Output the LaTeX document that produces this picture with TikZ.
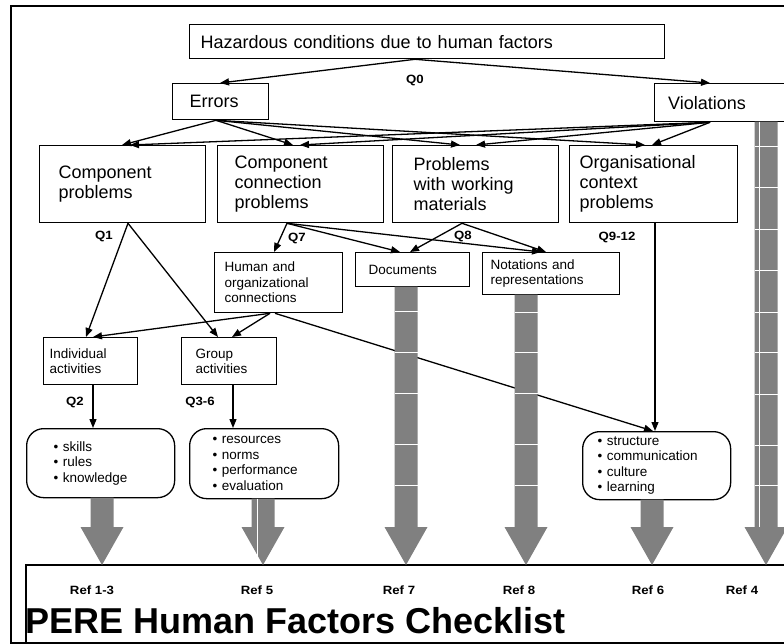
\documentclass[tikz,border=0pt]{standalone}
\usepackage{fontspec}
\setmainfont{Liberation Sans}
\newfontfamily\lblfont[FakeStretch=1.1]{Liberation Sans}
\usetikzlibrary{arrows.meta,calc}
\definecolor{blkgray}{RGB}{128,128,128}
\newcommand\blkarr[2]{%
  \fill[blkgray] ({#1-11.5},#2) -- ({#1+11.5},#2) -- ({#1+11.5},527) -- ({#1+21.5},527)
    -- (#1,565) -- ({#1-21.5},527) -- ({#1-11.5},527) -- cycle;}
\newcommand\sepl[2]{\draw[white,line width=1pt] ({#1-11.5},#2) -- ({#1+11.5},#2);}
\begin{document}
\begin{tikzpicture}[x=1pt,y=-1pt,
  bx/.style={draw, line width=1.3pt, fill=white, anchor=north west, align=left, inner ysep=0pt},
  rbx/.style={bx, rounded corners=17pt},
  big/.style={font=\fontsize{18}{20}\selectfont},
  sml/.style={font=\fontsize{13.5}{15.5}\selectfont},
  con/.style={line width=1.3pt, -{Triangle[length=9pt,width=7pt]}},
  lbl/.style={font=\lblfont\bfseries\fontsize{12}{14}\selectfont, inner sep=0pt},
  rlbl/.style={lbl, anchor=base}
]
\useasboundingbox (0,0) rectangle (784,644);
\clip (0,0) rectangle (784,644);
% outer frame
\draw[line width=2pt] (11,6) rectangle (830,643);

% boxes
\node[bx,big,text width=453pt,inner xsep=11pt,minimum height=34pt] (haz) at (189,24) {Hazardous conditions due to human factors};
\node[bx,big,text width=61.5pt,inner xsep=17.5pt,minimum height=36pt] (err) at (171.5,83) {Errors};
\node[bx,big,text width=139pt,inner xsep=13.5pt,minimum height=38pt] (vio) at (654,83) {Violations};
\node[bx,big,text width=128pt,inner xsep=19pt,minimum height=77pt] (cp) at (39,145) {Component\\problems};
\node[bx,big,text width=132pt,inner xsep=17pt,minimum height=77pt] (ccp) at (217,145) {Component\\connection\\problems};
\node[bx,big,text width=124pt,inner xsep=21pt,minimum height=77pt] (pwm) at (392,145) {Problems\\with working\\materials};
\node[bx,big,text width=148pt,inner xsep=10pt,minimum height=77pt] (org) at (569,145) {Organisational\\context\\problems};
\node[bx,sml,text width=108pt,inner xsep=10pt,minimum height=60pt] (hoc) at (214,252) {Human and\\organizational\\connections};
\node[bx,sml,text width=88pt,inner xsep=13pt,minimum height=34pt] (doc) at (355,252) {Documents};
\node[bx,sml,text width=121pt,inner xsep=8pt,minimum height=42pt] (nota) at (482,252) {Notations and\\representations};
\node[bx,sml,text width=82pt,inner xsep=6pt,minimum height=47pt] (ind) at (43,337) {Individual\\activities};
\node[bx,sml,text width=67pt,inner xsep=14pt,minimum height=47pt] (grp) at (181,337) {Group\\activities};
\node[rbx,sml,text width=94pt,inner xsep=27pt,minimum height=69pt] (skl) at (26,428) {• skills\\• rules\\• knowledge};
\node[rbx,sml,text width=103pt,inner xsep=23pt,minimum height=70pt] (res) at (189,428) {• resources\\• norms\\• performance\\• evaluation};
\node[rbx,sml,text width=118pt,inner xsep=15pt,minimum height=68pt] (str) at (582,431) {• structure\\• communication\\• culture\\• learning};
\node[draw,line width=1.5pt,anchor=north west,minimum width=800pt,minimum height=79pt,inner sep=0pt] (refbox) at (25,564) {};

% connectors
\draw[con] ([xshift=226pt]haz.south west) -- ([xshift=48.5pt]err.north west);
\draw[con] ([xshift=226pt]haz.south west) -- ([xshift=56pt]vio.north west);
\foreach \t/\s in {cp/83, ccp/76, pwm/68, org/76}
  \draw[con] ([xshift=44.5pt]err.south west) -- ([xshift=\s pt]\t.north west);
\foreach \t/\s in {cp/91, ccp/83, pwm/84, org/83}
  \draw[con] ([xshift=56pt]vio.south west) -- ([xshift=\s pt]\t.north west);
\draw[con] ([xshift=89pt]cp.south west) -- ([xshift=43pt]ind.north west);
\draw[con] ([xshift=89pt]cp.south west) -- ([xshift=37pt]grp.north west);
\draw[con] ([xshift=56pt]hoc.south west) -- ([xshift=50pt]ind.north west);
\draw[con] ([xshift=56pt]hoc.south west) -- ([xshift=51pt]grp.north west);
\draw[con] ([xshift=61pt]hoc.south west) -- ([xshift=71pt]str.north west);
\draw[con] ([xshift=70pt]ccp.south west) -- ([xshift=60pt]hoc.north west);
\draw[con] ([xshift=70pt]ccp.south west) -- ([xshift=45pt]doc.north west);
\draw[con] ([xshift=70pt]ccp.south west) -- ([xshift=59pt]nota.north west);
\draw[con] ([xshift=70pt]pwm.south west) -- ([xshift=55pt]doc.north west);
\draw[con] ([xshift=70pt]pwm.south west) -- ([xshift=64pt]nota.north west);
\draw[con] ([xshift=86pt]org.south west) -- ([xshift=73pt]str.north west);
\draw[con] ([xshift=50pt]ind.south west) -- ([xshift=67pt]skl.north west);
\draw[con] ([xshift=52pt]grp.south west) -- ([xshift=44pt]res.north west);

% block arrows
\blkarr{102}{497.6}
\blkarr{263}{498.6}
\draw[white,line width=0.8pt] (257,498.6) -- (257,560);
\blkarr{406}{286.6}
\foreach \y in {311,352,393,444,485} {\sepl{406}{\y}}
\blkarr{526}{294.6}
\foreach \y in {312,352,393,444,485} {\sepl{526}{\y}}
\blkarr{652}{499.6}
\blkarr{766}{121.6}
\foreach \y in {147,188,230,271,312,352,394,445,485} {\sepl{766}{\y}}
\draw[white,line width=0.8pt] (759,121.6) -- (759,527);

% labels
\node[lbl] (q0) at (415,80) {Q0};
\node[lbl] (q1) at (104,236) {Q1};
\node[lbl] (q7) at (297,238) {Q7};
\node[lbl] (q8) at (463,236) {Q8};
\node[lbl] (q912) at (617,237) {Q9-12};
\node[lbl] (q2) at (75,402) {Q2};
\node[lbl] (q36) at (200,402) {Q3-6};
\node[rlbl] (r13) at (92,594) {Ref 1-3};
\node[rlbl] (r5) at (257,594) {Ref 5};
\node[rlbl] (r7) at (399,594) {Ref 7};
\node[rlbl] (r8) at (519,594) {Ref 8};
\node[rlbl] (r6) at (648,594) {Ref 6};
\node[rlbl] (r4) at (742,594) {Ref 4};
\node[font=\bfseries\fontsize{36}{40}\selectfont, anchor=base west, inner sep=0pt] (title) at (25,633) {PERE Human Factors Checklist};
\end{tikzpicture}
\end{document}
